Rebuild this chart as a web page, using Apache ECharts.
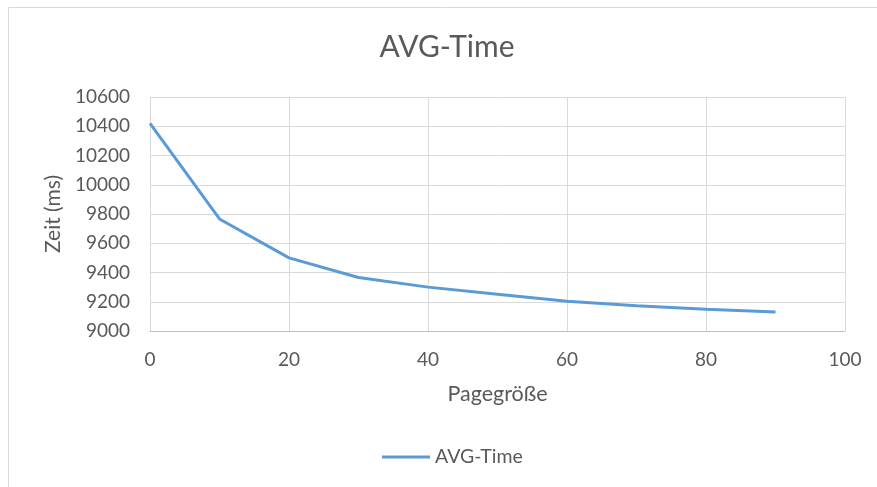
<!DOCTYPE html>
<html>
<head>
<meta charset="utf-8">
<script src="https://cdn.jsdelivr.net/npm/echarts@6/dist/echarts.min.js"></script>
<style>
  html, body { margin: 0; padding: 0; background: #fff; }
  #chart { width: 877px; height: 487px; }
</style>
</head>
<body>
<div id="chart"></div>
<script>
// Page size (x) and average time in ms (y)
const pageSizes = [0, 10, 20, 30, 40, 50, 60, 70, 80, 90];
const avgTime = [10420, 9766, 9500, 9366, 9300, 9252, 9203, 9172, 9148, 9130];
const seriesName = 'AVG-Time';
const titleText = 'AVG-Time';
const xAxisName = 'Pagegröße';
const yAxisName = 'Zeit (ms)';

const FONT = 'Lato, "Open Sans", sans-serif';
const TEXT = '#595959';
const GRID = '#d9d9d9';

const chart = echarts.init(document.getElementById('chart'), null, { renderer: 'canvas' });

chart.setOption({
  animation: false,
  backgroundColor: '#ffffff',
  textStyle: { fontFamily: FONT },
  graphic: [
    {
      type: 'rect',
      shape: { x: 8.5, y: 7.5, width: 900, height: 500 },
      style: { fill: 'none', stroke: GRID, lineWidth: 1 },
      silent: true,
      z: -10
    },
    {
      type: 'text',
      x: 447,
      y: 47,
      style: {
        text: titleText,
        font: '30px ' + FONT,
        fill: TEXT,
        textAlign: 'center',
        textVerticalAlign: 'middle'
      }
    }
  ],
  legend: {
    top: 447,
    left: 382,
    padding: 0,
    itemWidth: 48,
    itemHeight: 3,
    icon: 'rect',
    textStyle: { fontFamily: FONT, fontSize: 19.5, color: TEXT },
    data: [seriesName]
  },
  grid: { left: 150, right: 32, top: 97, bottom: 156 },
  xAxis: {
    type: 'value',
    min: 0, max: 100, interval: 20,
    name: xAxisName,
    nameLocation: 'middle',
    nameGap: 52,
    nameTextStyle: { fontFamily: FONT, fontSize: 21.5, color: TEXT },
    axisLine: { show: true, lineStyle: { color: '#bfbfbf', width: 1 } },
    axisTick: { show: false },
    axisLabel: { fontFamily: FONT, fontSize: 19, color: TEXT, margin: 19 },
    splitLine: { show: true, lineStyle: { color: GRID, width: 1 } }
  },
  yAxis: {
    type: 'value',
    min: 9000, max: 10600, interval: 200,
    name: yAxisName,
    nameLocation: 'middle',
    nameGap: 84,
    nameRotate: 90,
    nameTextStyle: { fontFamily: FONT, fontSize: 21, color: TEXT },
    axisLine: { show: true, lineStyle: { color: GRID, width: 1 } },
    axisTick: { show: false },
    axisLabel: { fontFamily: FONT, fontSize: 19, color: TEXT, margin: 20, formatter: v => String(v) },
    splitLine: { show: true, lineStyle: { color: GRID, width: 1 } }
  },
  series: [{
    name: seriesName,
    type: 'line',
    data: pageSizes.map((x, i) => [x, avgTime[i]]),
    symbol: 'none',
    lineStyle: { color: '#5b9bd5', width: 3 },
    itemStyle: { color: '#5b9bd5' }
  }]
});
</script>
</body>
</html>
